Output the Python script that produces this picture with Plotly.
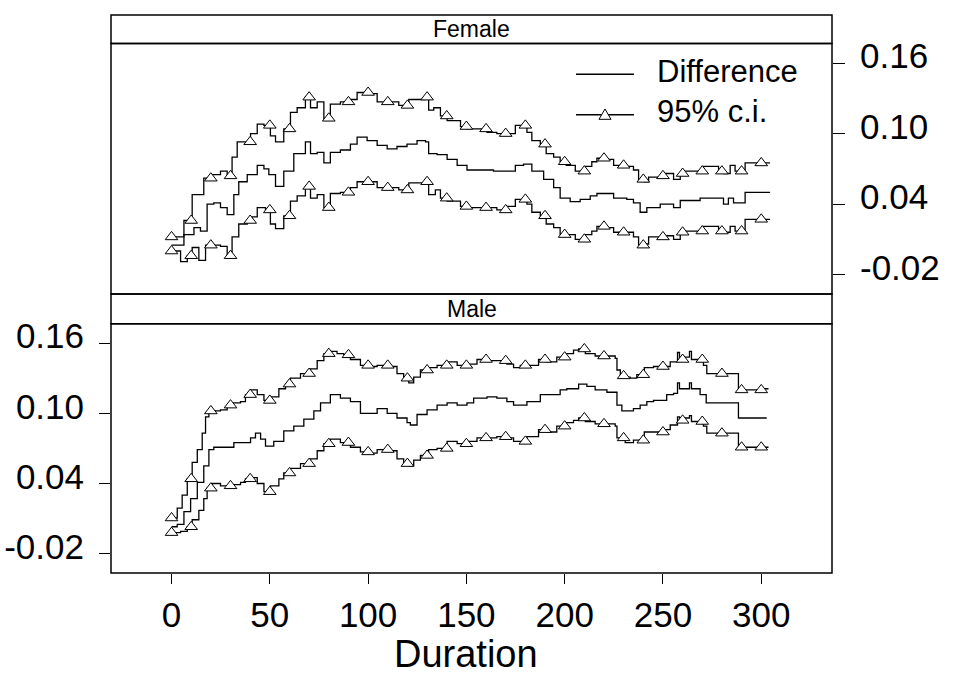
import numpy as np
import plotly.graph_objects as go

# ---------------- data ----------------
fem_up_x = [0, 6.3, 10.5, 16.4, 20.7, 24.9, 28.3, 30.8, 33.4, 40.2, 43.6, 47, 50.3, 52.9, 57.1, 60.5, 63.9, 68.1,
            70.7, 74.1, 77.5, 80.8, 85.9, 91, 94.4, 100.3, 104.6, 110.5, 115.6, 120.7, 124.9, 129.2, 130.8, 133.4,
            136.8, 140.2, 147, 150.3, 160.5, 165.5, 170.6, 174.9, 178.3, 180.8, 183.3, 187.6, 190.6, 194.4, 197.7,
            200.8, 205.4, 210.5, 213.8, 216.4, 220.6, 224.9, 230.8, 235, 237.6, 240.5, 242.7, 248.6, 250.6, 255.4,
            258.8, 260.8, 265.5, 270.6, 278.3, 280.8, 284.2, 286.7, 290.6, 291.8, 300.3, 304.5]
fem_up_y = [0.012, 0.026, 0.048, 0.062, 0.065, 0.068, 0.064, 0.080, 0.093, 0.100, 0.108, 0.107, 0.098, 0.093, 0.104,
            0.118, 0.122, 0.131, 0.122, 0.127, 0.113, 0.125, 0.127, 0.129, 0.135, 0.134, 0.127, 0.127, 0.124, 0.129,
            0.129, 0.131, 0.120, 0.122, 0.115, 0.111, 0.106, 0.104, 0.101, 0.100, 0.100, 0.107, 0.107, 0.101, 0.094,
            0.091, 0.083, 0.080, 0.076, 0.073, 0.068, 0.072, 0.076, 0.079, 0.078, 0.073, 0.072, 0.069, 0.061, 0.059,
            0.063, 0.064, 0.066, 0.061, 0.066, 0.068, 0.068, 0.072, 0.068, 0.066, 0.073, 0.068, 0.068, 0.075, 0.075,
            0.075]

fem_mid_x = [0, 6.3, 11.4, 14.7, 18.1, 21.5, 24.9, 28.3, 31.7, 34.2, 38.5, 43.6, 47, 49.5, 52.9, 57.1, 62.2, 68.1,
             70.7, 74.1, 77.5, 80.8, 85.9, 91, 94.4, 99.5, 104.6, 109.7, 114.7, 119.8, 124.9, 129.2, 130.8, 135.1,
             140.2, 145.3, 150.3, 157.1, 163.8, 170.6, 174.9, 179.1, 183.3, 189.3, 194.4, 197.7, 202.8, 207.9, 213,
             216.4, 221.5, 224.9, 231.6, 235, 238.4, 241.8, 248.6, 255.4, 258.8, 268.9, 280, 280.8, 283.3, 285.9,
             291.8, 304.5]
fem_mid_y = [0.005, 0.014, 0.020, 0.017, 0.040, 0.041, 0.037, 0.031, 0.048, 0.059, 0.065, 0.073, 0.070, 0.065, 0.055,
             0.068, 0.083, 0.093, 0.083, 0.084, 0.075, 0.084, 0.086, 0.091, 0.097, 0.094, 0.090, 0.087, 0.089, 0.091,
             0.094, 0.093, 0.083, 0.082, 0.078, 0.073, 0.069, 0.069, 0.068, 0.068, 0.073, 0.074, 0.068, 0.061, 0.054,
             0.045, 0.042, 0.044, 0.047, 0.049, 0.049, 0.045, 0.044, 0.041, 0.033, 0.037, 0.040, 0.037, 0.043, 0.045,
             0.045, 0.040, 0.045, 0.041, 0.050, 0.050]

fem_lo_x = [0, 4.6, 8, 10.5, 13.9, 17.3, 20.7, 24.9, 28.3, 30.8, 34.2, 38.5, 41, 43.6, 47.8, 50.3, 52.9, 57.1, 60.5,
            63.9, 68.1, 70.7, 74.1, 77.5, 80.8, 85.9, 91, 94.4, 100.3, 104.6, 110.5, 115.6, 120.7, 124.9, 129.2, 130.8,
            134.2, 136.8, 140.2, 147, 150.3, 160.5, 165.5, 170.6, 174.9, 178.3, 180.8, 183.3, 187.6, 190.6, 194.4,
            197.7, 200.8, 205.4, 210.5, 213.8, 216.4, 220.6, 224.9, 230.8, 235, 237.6, 240.5, 242.7, 250.6, 255.4,
            258.8, 260.8, 270.6, 278.3, 280.8, 284.2, 286.7, 290.6, 291.8, 304.5]
fem_lo_y = [0.000, -0.009, -0.004, 0.003, -0.008, 0.005, 0.005, 0.004, -0.004, 0.012, 0.023, 0.026, 0.029, 0.037,
            0.035, 0.023, 0.019, 0.030, 0.0425, 0.047, 0.055, 0.045, 0.048, 0.037, 0.049, 0.050, 0.054, 0.059, 0.059,
            0.054, 0.054, 0.052, 0.058, 0.058, 0.059, 0.048, 0.052, 0.045, 0.0425, 0.038, 0.037, 0.037, 0.035, 0.038,
            0.044, 0.044, 0.040, 0.033, 0.030, 0.023, 0.020, 0.014, 0.014, 0.010, 0.014, 0.017, 0.021, 0.020, 0.016,
            0.016, 0.012, 0.005, 0.006, 0.012, 0.013, 0.010, 0.016, 0.017, 0.021, 0.017, 0.016, 0.021, 0.017, 0.017,
            0.027, 0.027]

mal_up_x = [0, 2.9, 5.4, 8, 10.5, 13.1, 15.6, 17.3, 19, 20.7, 24.9, 28.3, 30.8, 35.1, 37.6, 40.2, 43.6, 47, 50.3,
            54.6, 58, 60.5, 65.6, 70.7, 74.1, 77.5, 80.8, 84.2, 87.6, 91, 96.1, 100.3, 104.6, 110.5, 114.7, 118.1,
            120.7, 123.2, 126.6, 130.8, 135.1, 140.2, 145.3, 150.3, 155.4, 160.8, 165.5, 170.6, 174, 177.4, 180.8,
            186.7, 190.6, 196, 200.8, 204.5, 207.1, 210.5, 215.5, 220.6, 225.7, 226.6, 228.3, 230.8, 233.3, 236.7,
            240.5, 245.2, 250.6, 253.7, 257.4, 258.4, 260.8, 263.5, 264.5, 270.6, 272.3, 280.8, 288.4, 300.3, 303.7]
mal_up_y = [0.0105, 0.019, 0.030, 0.044, 0.058, 0.069, 0.083, 0.097, 0.102, 0.102, 0.103, 0.107, 0.109, 0.110, 0.116,
            0.120, 0.116, 0.111, 0.114, 0.121, 0.125, 0.130, 0.134, 0.138, 0.145, 0.151, 0.153, 0.151, 0.150, 0.146,
            0.141, 0.140, 0.141, 0.140, 0.134, 0.130, 0.126, 0.131, 0.137, 0.139, 0.141, 0.144, 0.141, 0.142, 0.146,
            0.145, 0.145, 0.142, 0.139, 0.141, 0.141, 0.146, 0.144, 0.148, 0.151, 0.154, 0.155, 0.151, 0.149, 0.149,
            0.147, 0.137, 0.132, 0.131, 0.130, 0.133, 0.139, 0.140, 0.140, 0.144, 0.152, 0.146, 0.148, 0.153, 0.146,
            0.141, 0.134, 0.134, 0.120, 0.121, 0.121]

mal_mid_x = [0, 2.9, 6.3, 9.7, 13.1, 16.4, 19, 21.5, 26.6, 31.7, 36.8, 40.2, 42.7, 45.3, 47.8, 52, 57.1, 62.2, 67.3,
             72.4, 75.8, 80.8, 85.9, 91, 96.1, 101.2, 104.6, 109.7, 114.7, 119.8, 121.5, 124.9, 130, 135.1, 140.2,
             145.3, 150.3, 153.7, 160.5, 165.5, 170.6, 174, 180.8, 187.6, 192.7, 197.7, 201.1, 207.1, 211.3, 215.5,
             221.5, 226.6, 229.1, 235, 238.4, 241.8, 245.2, 251.9, 255.4, 257.4, 258.4, 263.5, 264.5, 268.9, 272,
             288.4, 302.8]
mal_mid_y = [0.003, 0.005, 0.016, 0.027, 0.041, 0.055, 0.069, 0.071, 0.071, 0.075, 0.075, 0.079, 0.083, 0.078, 0.072,
             0.076, 0.085, 0.089, 0.095, 0.102, 0.109, 0.116, 0.113, 0.110, 0.100, 0.100, 0.104, 0.100, 0.096, 0.092,
             0.090, 0.099, 0.103, 0.107, 0.109, 0.107, 0.109, 0.113, 0.114, 0.113, 0.110, 0.107, 0.110, 0.116, 0.116,
             0.120, 0.121, 0.125, 0.123, 0.120, 0.118, 0.107, 0.102, 0.104, 0.107, 0.110, 0.111, 0.116, 0.117, 0.126,
             0.121, 0.126, 0.121, 0.116, 0.109, 0.096, 0.096]

mal_lo_x = [0, 4.6, 8, 10.5, 13.9, 16.4, 18.1, 20.7, 24.9, 30.8, 35.1, 37.6, 40.2, 43.6, 47, 50.3, 54.6, 57.1, 60.5,
            65.6, 70.7, 74.1, 77.5, 80.8, 85.9, 91, 96.1, 100.3, 104.6, 110.5, 114.7, 118.1, 120.7, 123.2, 126.6,
            130.8, 135.1, 140.2, 145.3, 150.3, 155.4, 160.8, 165.5, 170.6, 174, 180.8, 186.7, 190.6, 196, 200.8,
            204.5, 207.1, 210.5, 215.5, 220.6, 225.7, 226.6, 230.8, 235, 240.5, 245.2, 250.6, 253.7, 257.4, 258.4,
            260.8, 263.5, 264.5, 270.6, 272.3, 280.8, 288.4, 300.3, 303.7]
mal_lo_y = [-0.002, -0.001, 0.003, 0.009, 0.017, 0.027, 0.036, 0.040, 0.038, 0.039, 0.041, 0.044, 0.045, 0.040, 0.033,
            0.038, 0.044, 0.049, 0.053, 0.057, 0.061, 0.068, 0.074, 0.078, 0.075, 0.071, 0.067, 0.066, 0.069, 0.068,
            0.061, 0.057, 0.055, 0.060, 0.064, 0.069, 0.070, 0.076, 0.074, 0.076, 0.079, 0.079, 0.080, 0.079, 0.076,
            0.080, 0.086, 0.084, 0.089, 0.092, 0.094, 0.096, 0.093, 0.091, 0.091, 0.089, 0.079, 0.075, 0.077, 0.084,
            0.084, 0.086, 0.090, 0.097, 0.094, 0.096, 0.098, 0.093, 0.089, 0.083, 0.083, 0.071, 0.071, 0.071]

marker_x = list(range(0, 301, 10))
x_ticks = [0, 50, 100, 150, 200, 250, 300]
y_ticks = [-0.02, 0.04, 0.10, 0.16]
y_tick_text = ["-0.02", "0.04", "0.10", "0.16"]
panels = ["Female", "Male"]
legend_labels = ["Difference", "95% c.i."]
x_title = "Duration"

# ---------------- figure ----------------
W, H = 953, 678
FONT = "Liberation Sans, Arial, sans-serif"

def px(x):
    return x / W

def py(y):
    return (H - y) / H

def step_at(xs, ys, pts):
    xs = np.asarray(xs)
    ys = np.asarray(ys)
    idx = np.searchsorted(xs, pts, side="right") - 1
    idx = np.clip(idx, 0, len(ys) - 1)
    return ys[idx]

fig = go.Figure()
line_style = dict(color="black", width=1.3, shape="hv")
marker_style = dict(symbol="triangle-up", size=11, color="white", line=dict(color="black", width=1))

series = [
    ("x", "y", fem_mid_x, fem_mid_y, fem_up_x, fem_up_y, fem_lo_x, fem_lo_y),
    ("x2", "y2", mal_mid_x, mal_mid_y, mal_up_x, mal_up_y, mal_lo_x, mal_lo_y),
]
for xa, ya, mx, my, ux, uy, lx, ly in series:
    fig.add_trace(go.Scatter(x=mx, y=my, mode="lines", line=line_style, xaxis=xa, yaxis=ya,
                             showlegend=False, hoverinfo="skip"))
    for cx, cy in ((ux, uy), (lx, ly)):
        fig.add_trace(go.Scatter(x=cx, y=cy, mode="lines", line=line_style, xaxis=xa, yaxis=ya,
                                 showlegend=False, hoverinfo="skip"))
        fig.add_trace(go.Scatter(x=marker_x, y=step_at(cx, cy, marker_x), mode="markers",
                                 marker=marker_style, xaxis=xa, yaxis=ya, showlegend=False,
                                 hoverinfo="skip", cliponaxis=False))

# geometry (pixels)
LEFT, RIGHT = 111, 832
F_STRIP_TOP, F_TOP, F_BOT = 8, 37, 290
M_TOP, M_BOT = 320, 572
XR = [-30.8, 336]
YR = [-0.0366, 0.1766]

tickfont = dict(family=FONT, size=35, color="black")
fig.update_layout(
    width=W, height=H,
    margin=dict(l=0, r=0, t=0, b=0),
    paper_bgcolor="white", plot_bgcolor="white",
    showlegend=False,
    xaxis=dict(domain=[px(LEFT), px(RIGHT)], range=XR, anchor="y", showgrid=False, zeroline=False,
               showticklabels=False, ticks="", showline=False),
    yaxis=dict(domain=[py(F_BOT), py(F_TOP)], range=YR, anchor="x", side="right", showgrid=False,
               zeroline=False, tickvals=y_ticks, ticktext=y_tick_text, ticks="outside", ticklen=12,
               tickwidth=1, tickcolor="black", tickfont=tickfont, ticklabelstandoff=8,
               ticklabelshift=-7, showline=False),
    xaxis2=dict(domain=[px(LEFT), px(RIGHT)], range=XR, anchor="y2", showgrid=False, zeroline=False,
                tickvals=x_ticks, ticks="outside", ticklen=10, tickwidth=1, tickcolor="black",
                tickfont=tickfont, ticklabelstandoff=1, showline=False),
    yaxis2=dict(domain=[py(M_BOT), py(M_TOP)], range=YR, anchor="x2", side="left", showgrid=False,
                zeroline=False, tickvals=y_ticks, ticktext=y_tick_text, ticks="outside", ticklen=11,
                tickwidth=1, tickcolor="black", tickfont=tickfont, ticklabelstandoff=8,
                ticklabelshift=-7, showline=False),
)

shapes = []
for top, bot in ((F_STRIP_TOP, F_TOP), (F_TOP, F_BOT), (F_BOT, M_TOP), (M_TOP, M_BOT)):
    shapes.append(dict(type="rect", xref="paper", yref="paper", x0=px(LEFT), x1=px(RIGHT),
                       y0=py(bot), y1=py(top), line=dict(color="black", width=1.5),
                       fillcolor="rgba(0,0,0,0)", layer="above"))

# legend drawn by hand (long line samples as in the reference)
LEG_X0, LEG_X1, LEG_TXT = 576, 634, 655
LEG_Y = [68, 109]
for yy in LEG_Y:
    shapes.append(dict(type="line", xref="paper", yref="paper", x0=px(LEG_X0), x1=px(LEG_X1),
                       y0=py(yy), y1=py(yy), line=dict(color="black", width=1.5)))
cx, cy = (LEG_X0 + LEG_X1) / 2, LEG_Y[1]
tri = "M {:.5f},{:.5f} L {:.5f},{:.5f} L {:.5f},{:.5f} Z".format(
    px(cx - 6), py(cy + 4.5), px(cx + 6), py(cy + 4.5), px(cx), py(cy - 6))
shapes.append(dict(type="path", xref="paper", yref="paper", path=tri,
                   line=dict(color="black", width=1), fillcolor="white"))
fig.update_layout(shapes=shapes)

annotations = []
for name, (top, bot) in zip(panels, ((F_STRIP_TOP, F_TOP), (F_BOT, M_TOP))):
    annotations.append(dict(text=name, xref="paper", yref="paper", x=px((LEFT + RIGHT) / 2),
                            y=py((top + bot) / 2), xanchor="center", yanchor="middle", showarrow=False,
                            font=dict(family=FONT, size=23, color="black")))
for lab, yy in zip(legend_labels, LEG_Y):
    annotations.append(dict(text=lab, xref="paper", yref="paper", x=px(LEG_TXT), y=py(yy - 3),
                            xanchor="left", yanchor="middle", showarrow=False,
                            font=dict(family=FONT, size=31, color="black")))
annotations.append(dict(text=x_title, xref="paper", yref="paper", x=px(466), y=py(654),
                        xanchor="center", yanchor="middle", showarrow=False,
                        font=dict(family=FONT, size=38, color="black")))
fig.update_layout(annotations=annotations)

fig.write_html("out.html")
